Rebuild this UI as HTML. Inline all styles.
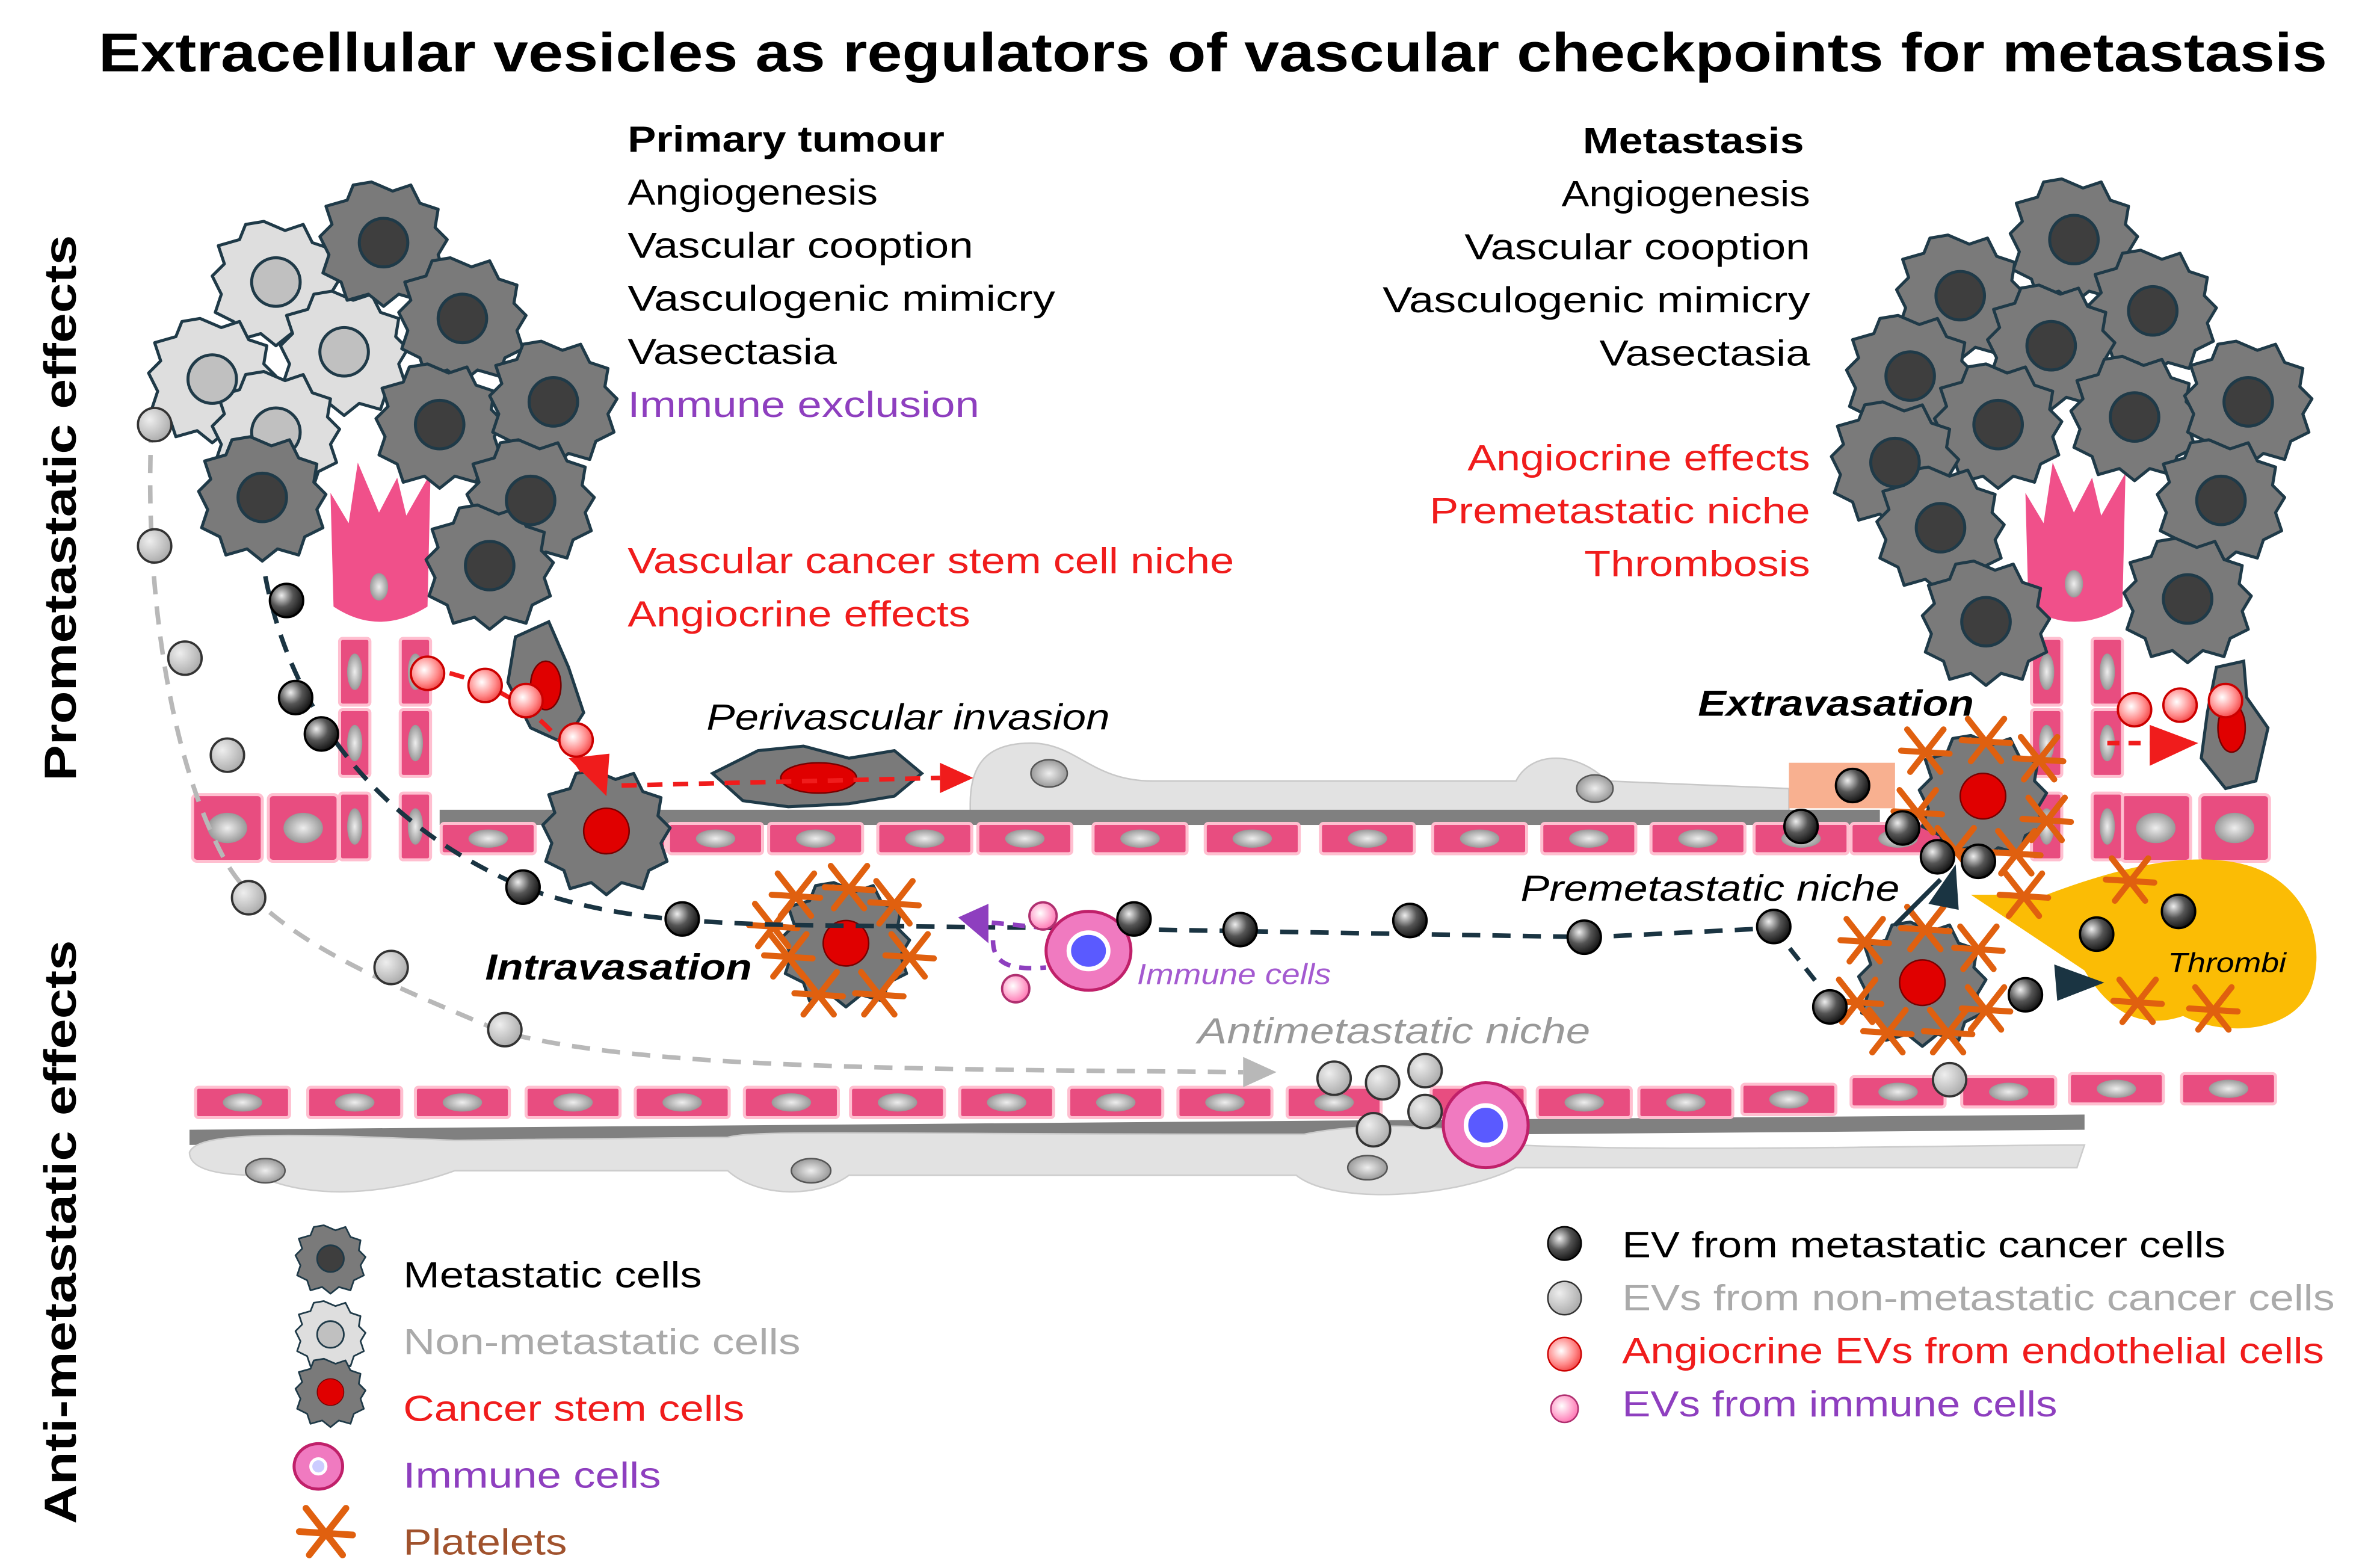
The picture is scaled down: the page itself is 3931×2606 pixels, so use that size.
<!DOCTYPE html>
<html><head><meta charset="utf-8"><style>
html,body{margin:0;padding:0;background:#fff}
svg{display:block}
text{font-family:"Liberation Sans","DejaVu Sans",sans-serif}
</style></head><body>
<svg width="3931" height="2606" viewBox="0 0 1560 1034" preserveAspectRatio="none" xmlns="http://www.w3.org/2000/svg">
<defs>
<radialGradient id="ev" cx="35%" cy="35%" r="70%"><stop offset="0" stop-color="#eee"/><stop offset="0.5" stop-color="#555"/><stop offset="1" stop-color="#111"/></radialGradient>
<radialGradient id="evg" cx="35%" cy="35%" r="70%"><stop offset="0" stop-color="#eee"/><stop offset="1" stop-color="#aaa"/></radialGradient>
<radialGradient id="evr" cx="40%" cy="40%" r="70%"><stop offset="0" stop-color="#fff"/><stop offset="0.6" stop-color="#f88"/><stop offset="1" stop-color="#e33"/></radialGradient>
<radialGradient id="evp" cx="40%" cy="40%" r="70%"><stop offset="0" stop-color="#fff"/><stop offset="1" stop-color="#f6a"/></radialGradient>
<radialGradient id="nuc" cx="50%" cy="50%" r="60%"><stop offset="0" stop-color="#eee"/><stop offset="1" stop-color="#888"/></radialGradient>
<g id="cell"><path d="M-8,-40 L6,-34 L18,-38 L24,-26 L36,-22 L34,-10 L42,-2 L36,8 L40,20 L28,26 L24,38 L10,34 L0,42 L-10,34 L-24,38 L-28,26 L-40,20 L-36,8 L-42,-4 L-34,-12 L-38,-24 L-24,-28 L-20,-38 Z" stroke="#1f3a48" stroke-width="2" stroke-linejoin="round"/></g>
<g id="plt" stroke="#e0600f" stroke-width="4" stroke-linecap="round"><path d="M-12,-14 L10,14 M12,-14 L-10,14 M-16,0 L16,2"/></g>
<g id="ec"><rect x="-23" y="-22" width="46" height="44" rx="3" fill="#e84d80" stroke="#ffbfd0" stroke-width="2"/><ellipse rx="13" ry="10" fill="url(#nuc)"/></g>
<g id="ecs"><rect x="-31" y="-10" width="62" height="20" rx="2" fill="#e84d80" stroke="#ffbfd0" stroke-width="2"/><ellipse rx="13" ry="6" fill="url(#nuc)"/></g>
<g id="ecv"><rect x="-10" y="-22" width="20" height="44" rx="2" fill="#e84d80" stroke="#ffbfd0" stroke-width="2"/><ellipse rx="5" ry="12" fill="url(#nuc)"/></g>
</defs>

<text x="65" y="47" font-size="36" font-weight="bold" textLength="1470" lengthAdjust="spacingAndGlyphs">Extracellular vesicles as regulators of vascular checkpoints for metastasis</text>
<text transform="translate(50,515) rotate(-90)" font-size="30" font-weight="bold" textLength="360" lengthAdjust="spacingAndGlyphs">Prometastatic effects</text>
<text transform="translate(50,1005) rotate(-90)" font-size="30" font-weight="bold" textLength="385" lengthAdjust="spacingAndGlyphs">Anti-metastatic effects</text>

<g font-size="24" lengthAdjust="spacingAndGlyphs">
<text x="414" y="100" font-weight="bold" textLength="209" lengthAdjust="spacingAndGlyphs">Primary tumour</text>
<text x="414" y="135" textLength="165" lengthAdjust="spacingAndGlyphs">Angiogenesis</text>
<text x="414" y="170" textLength="228" lengthAdjust="spacingAndGlyphs">Vascular cooption</text>
<text x="414" y="205" textLength="282" lengthAdjust="spacingAndGlyphs">Vasculogenic mimicry</text>
<text x="414" y="240" textLength="138" lengthAdjust="spacingAndGlyphs">Vasectasia</text>
<text x="414" y="275" fill="#8e3fbf" textLength="232" lengthAdjust="spacingAndGlyphs">Immune exclusion</text>
<text x="414" y="378" fill="#f01c1c" textLength="400" lengthAdjust="spacingAndGlyphs">Vascular cancer stem cell niche</text>
<text x="414" y="413" fill="#f01c1c" textLength="226" lengthAdjust="spacingAndGlyphs">Angiocrine effects</text>
<text x="1044" y="101" font-weight="bold" textLength="146" lengthAdjust="spacingAndGlyphs">Metastasis</text>
<text x="1030" y="136" textLength="164" lengthAdjust="spacingAndGlyphs">Angiogenesis</text>
<text x="966" y="171" textLength="228" lengthAdjust="spacingAndGlyphs">Vascular cooption</text>
<text x="912" y="206" textLength="282" lengthAdjust="spacingAndGlyphs">Vasculogenic mimicry</text>
<text x="1055" y="241" textLength="139" lengthAdjust="spacingAndGlyphs">Vasectasia</text>
<text x="968" y="310" fill="#f01c1c" textLength="226" lengthAdjust="spacingAndGlyphs">Angiocrine effects</text>
<text x="943" y="345" fill="#f01c1c" textLength="251" lengthAdjust="spacingAndGlyphs">Premetastatic niche</text>
<text x="1045" y="380" fill="#f01c1c" textLength="149" lengthAdjust="spacingAndGlyphs">Thrombosis</text>
</g>

<!-- perivascular gray cells upper -->
<path d="M640,530 C640,505 650,490 680,490 C710,490 720,515 760,515 L1000,515 C1010,495 1040,495 1060,515 L1180,520 L1180,535 L640,535 Z" fill="#e2e2e2" stroke="#c8c8c8"/>
<ellipse cx="692" cy="510" rx="12" ry="9" fill="url(#nuc)" stroke="#555"/>
<ellipse cx="1052" cy="520" rx="12" ry="9" fill="url(#nuc)" stroke="#555"/>
<rect x="1180" y="503" width="70" height="30" fill="#f8b090"/>
<!-- upper vessel -->
<rect x="290" y="534" width="950" height="10" fill="#808080"/>
<g>
<use href="#ec" x="150" y="546"/><use href="#ec" x="200" y="546"/>
<use href="#ecs" x="322" y="553"/><use href="#ecs" x="408" y="553"/><use href="#ecs" x="472" y="553"/><use href="#ecs" x="538" y="553"/><use href="#ecs" x="610" y="553"/><use href="#ecs" x="676" y="553"/><use href="#ecs" x="752" y="553"/><use href="#ecs" x="826" y="553"/><use href="#ecs" x="902" y="553"/><use href="#ecs" x="976" y="553"/><use href="#ecs" x="1048" y="553"/><use href="#ecs" x="1120" y="553"/><use href="#ecs" x="1188" y="553"/><use href="#ecs" x="1252" y="553"/>
<use href="#ec" x="1422" y="546"/><use href="#ec" x="1474" y="546"/>
<use href="#ecv" x="234" y="443"/><use href="#ecv" x="234" y="490"/><use href="#ecv" x="234" y="545"/>
<use href="#ecv" x="274" y="443"/><use href="#ecv" x="274" y="490"/><use href="#ecv" x="274" y="545"/>
<use href="#ecv" x="1350" y="443"/><use href="#ecv" x="1350" y="490"/><use href="#ecv" x="1350" y="545"/>
<use href="#ecv" x="1390" y="443"/><use href="#ecv" x="1390" y="490"/><use href="#ecv" x="1390" y="545"/>
</g>
<!-- tip cells -->
<path d="M218,325 L230,345 L236,305 L250,338 L262,315 L268,340 L284,312 L282,400 Q250,420 220,400 Z" fill="#f0508a"/>
<ellipse cx="250" cy="387" rx="6" ry="9" fill="url(#nuc)"/>
<path d="M1336,325 L1348,345 L1354,305 L1368,338 L1380,315 L1386,340 L1402,312 L1400,400 Q1368,420 1338,400 Z" fill="#f0508a"/>
<ellipse cx="1368" cy="385" rx="6" ry="9" fill="url(#nuc)"/>

<!-- lower vessel -->
<path d="M125,745 L1375,735 L1375,745 L125,755 Z" fill="#808080"/>
<path d="M125,760 C130,745 200,748 300,752 L480,750 C500,745 560,748 860,748 C900,740 960,740 1000,755 C1100,760 1300,755 1375,755 L1370,770 C1200,770 1100,770 1000,770 C960,790 880,795 855,775 L560,775 C540,790 500,790 480,772 L300,772 C250,790 200,790 170,775 C140,775 125,770 125,760 Z" fill="#e2e2e2" stroke="#ccc"/>
<ellipse cx="175" cy="772" rx="13" ry="8" fill="url(#nuc)" stroke="#555"/>
<ellipse cx="535" cy="772" rx="13" ry="8" fill="url(#nuc)" stroke="#555"/>
<ellipse cx="902" cy="770" rx="13" ry="8" fill="url(#nuc)" stroke="#555"/>
<g>
<use href="#ecs" x="160" y="727"/><use href="#ecs" x="234" y="727"/><use href="#ecs" x="305" y="727"/><use href="#ecs" x="378" y="727"/><use href="#ecs" x="450" y="727"/><use href="#ecs" x="522" y="727"/><use href="#ecs" x="592" y="727"/><use href="#ecs" x="664" y="727"/><use href="#ecs" x="736" y="727"/><use href="#ecs" x="808" y="727"/><use href="#ecs" x="880" y="727"/><use href="#ecs" x="975" y="727"/><use href="#ecs" x="1045" y="727"/><use href="#ecs" x="1112" y="727"/><use href="#ecs" x="1180" y="725"/><use href="#ecs" x="1252" y="720"/><use href="#ecs" x="1325" y="720"/><use href="#ecs" x="1396" y="718"/><use href="#ecs" x="1470" y="718"/>
</g>

<!-- tumours -->
<g fill="#dedede">
<use href="#cell" x="182" y="186"/><use href="#cell" x="140" y="250"/><use href="#cell" x="227" y="232"/><use href="#cell" x="182" y="285"/>
</g>
<g fill="#c0c0c0" stroke="#1f3a48" stroke-width="2"><circle cx="182" cy="186" r="16"/><circle cx="140" cy="250" r="16"/><circle cx="227" cy="232" r="16"/><circle cx="182" cy="285" r="16"/></g>
<g fill="#7a7a7a">
<use href="#cell" x="253" y="160"/><use href="#cell" x="305" y="210"/><use href="#cell" x="290" y="280"/><use href="#cell" x="365" y="265"/><use href="#cell" x="350" y="330"/><use href="#cell" x="323" y="373"/><use href="#cell" x="173" y="328"/>
<use href="#cell" x="1368" y="158"/><use href="#cell" x="1293" y="195"/><use href="#cell" x="1420" y="205"/><use href="#cell" x="1353" y="228"/><use href="#cell" x="1260" y="248"/><use href="#cell" x="1318" y="280"/><use href="#cell" x="1408" y="275"/><use href="#cell" x="1483" y="265"/><use href="#cell" x="1250" y="305"/><use href="#cell" x="1280" y="348"/><use href="#cell" x="1465" y="330"/><use href="#cell" x="1443" y="395"/><use href="#cell" x="1310" y="410"/>
</g>
<g fill="#3e3e3e" stroke="#1f3a48" stroke-width="2"><circle cx="253" cy="160" r="16"/><circle cx="305" cy="210" r="16"/><circle cx="290" cy="280" r="16"/><circle cx="365" cy="265" r="16"/><circle cx="350" cy="330" r="16"/><circle cx="323" cy="373" r="16"/><circle cx="173" cy="328" r="16"/>
<circle cx="1368" cy="158" r="16"/><circle cx="1293" cy="195" r="16"/><circle cx="1420" cy="205" r="16"/><circle cx="1353" cy="228" r="16"/><circle cx="1260" cy="248" r="16"/><circle cx="1318" cy="280" r="16"/><circle cx="1408" cy="275" r="16"/><circle cx="1483" cy="265" r="16"/><circle cx="1250" cy="305" r="16"/><circle cx="1280" cy="348" r="16"/><circle cx="1465" cy="330" r="16"/><circle cx="1443" cy="395" r="16"/><circle cx="1310" cy="410" r="16"/></g>

<!-- cancer stem cells -->
<g fill="#7a7a7a">
<path d="M340,420 L362,410 L375,440 L385,470 L372,490 L350,480 L335,450 Z" stroke="#1f3a48" stroke-width="2"/>
<use href="#cell" x="400" y="548"/>
<use href="#cell" x="558" y="622"/><use href="#cell" x="1308" y="525"/><use href="#cell" x="1268" y="648"/>
<path d="M1462,440 L1480,436 L1482,460 L1496,480 L1488,515 L1468,520 L1452,500 L1456,470 Z" stroke="#1f3a48" stroke-width="2"/>
<path d="M470,510 L500,495 L530,492 L560,500 L590,495 L608,510 L590,525 L560,530 L520,532 L490,528 Z" stroke="#1f3a48" stroke-width="2"/>
</g>
<g fill="#e00000" stroke="#700"><ellipse cx="360" cy="452" rx="10" ry="16"/><circle cx="400" cy="548" r="15"/><circle cx="558" cy="622" r="15"/><circle cx="1308" cy="525" r="15"/><circle cx="1268" cy="648" r="15"/><ellipse cx="1472" cy="480" rx="9" ry="16"/><ellipse cx="540" cy="513" rx="25" ry="10"/></g>

<!-- thrombi -->
<path d="M1350,590 C1390,575 1440,560 1480,570 C1520,580 1535,620 1525,650 C1515,680 1470,685 1440,670 C1410,680 1390,665 1375,640 L1300,590 Z" fill="#fbbc05"/>
<text x="1430" y="641" font-size="18" font-style="italic" textLength="78" lengthAdjust="spacingAndGlyphs">Thrombi</text>

<!-- platelets -->
<g>
<use href="#plt" x="525" y="590"/><use href="#plt" x="560" y="585"/><use href="#plt" x="590" y="595"/><use href="#plt" x="520" y="630"/><use href="#plt" x="600" y="630"/><use href="#plt" x="540" y="655"/><use href="#plt" x="580" y="655"/><use href="#plt" x="510" y="610"/>
<use href="#plt" x="1270" y="495"/><use href="#plt" x="1310" y="488"/><use href="#plt" x="1345" y="500"/><use href="#plt" x="1265" y="535"/><use href="#plt" x="1350" y="540"/><use href="#plt" x="1290" y="560"/><use href="#plt" x="1330" y="562"/>
<use href="#plt" x="1230" y="620"/><use href="#plt" x="1270" y="612"/><use href="#plt" x="1305" y="625"/><use href="#plt" x="1225" y="660"/><use href="#plt" x="1310" y="665"/><use href="#plt" x="1245" y="680"/><use href="#plt" x="1285" y="680"/>
<use href="#plt" x="1335" y="590"/><use href="#plt" x="1405" y="580"/><use href="#plt" x="1410" y="660"/><use href="#plt" x="1460" y="665"/>
</g>

<!-- dashed paths -->
<path d="M175,380 C190,460 240,540 345,585 C400,605 450,608 520,610 L700,612 L1050,618 L1170,612" fill="none" stroke="#1a3442" stroke-width="3" stroke-dasharray="12,8"/>
<path d="M1170,612 L1200,650" fill="none" stroke="#1a3442" stroke-width="3" stroke-dasharray="10,7"/>
<path d="M1250,610 L1280,580" fill="none" stroke="#1a3442" stroke-width="3"/>
<polygon points="1272,596 1290,570 1292,600" fill="#1a3442"/>
<polygon points="1355,636 1388,648 1357,660" fill="#1a3442"/>
<path d="M100,280 C95,380 110,500 150,570 C180,620 260,650 330,680 C420,705 600,705 820,707" fill="none" stroke="#b8b8b8" stroke-width="3" stroke-dasharray="12,8"/>
<polygon points="820,697 842,707 820,717" fill="#b8b8b8"/>
<path d="M280,440 C330,450 360,470 385,510" fill="none" stroke="#f01c1c" stroke-width="3" stroke-dasharray="10,7"/>
<polygon points="375,500 400,525 402,497" fill="#f01c1c"/>
<path d="M410,518 L620,513" fill="none" stroke="#f01c1c" stroke-width="3" stroke-dasharray="10,7"/>
<polygon points="620,503 642,513 620,523" fill="#f01c1c"/>
<path d="M1390,490 L1420,490" fill="none" stroke="#f01c1c" stroke-width="3" stroke-dasharray="8,6"/>
<polygon points="1418,478 1450,490 1418,505" fill="#f01c1c"/>
<path d="M690,612 L650,608 M655,620 C655,635 665,640 690,638" fill="none" stroke="#8e3fbf" stroke-width="3" stroke-dasharray="8,6"/>
<polygon points="632,605 652,596 652,622" fill="#8e3fbf"/>

<!-- immune cells -->
<ellipse cx="718" cy="627" rx="28" ry="26" fill="#f07ac0" stroke="#c0206a" stroke-width="2"/>
<ellipse cx="718" cy="627" rx="13" ry="12" fill="#5a5aff" stroke="#fff" stroke-width="3"/>
<ellipse cx="980" cy="742" rx="28" ry="28" fill="#f07ac0" stroke="#c0206a" stroke-width="2"/>
<ellipse cx="980" cy="742" rx="13" ry="13" fill="#5a5aff" stroke="#fff" stroke-width="3"/>

<!-- EVs dark -->
<g fill="url(#ev)" stroke="#000" stroke-width="1.5">
<circle cx="189" cy="396" r="11"/><circle cx="195" cy="460" r="11"/><circle cx="212" cy="484" r="11"/><circle cx="345" cy="585" r="11"/><circle cx="450" cy="606" r="11"/><circle cx="748" cy="606" r="11"/><circle cx="818" cy="613" r="11"/><circle cx="930" cy="607" r="11"/><circle cx="1045" cy="618" r="11"/><circle cx="1170" cy="611" r="11"/><circle cx="1222" cy="518" r="11"/><circle cx="1188" cy="545" r="11"/><circle cx="1255" cy="546" r="11"/><circle cx="1278" cy="565" r="11"/><circle cx="1305" cy="568" r="11"/><circle cx="1207" cy="664" r="11"/><circle cx="1336" cy="656" r="11"/><circle cx="1383" cy="616" r="11"/><circle cx="1437" cy="601" r="11"/>
</g>
<!-- EVs gray -->
<g fill="url(#evg)" stroke="#333" stroke-width="1.5">
<circle cx="102" cy="280" r="11"/><circle cx="102" cy="360" r="11"/><circle cx="122" cy="434" r="11"/><circle cx="150" cy="498" r="11"/><circle cx="164" cy="592" r="11"/><circle cx="258" cy="638" r="11"/><circle cx="333" cy="679" r="11"/>
<circle cx="880" cy="711" r="11"/><circle cx="912" cy="714" r="11"/><circle cx="940" cy="706" r="11"/><circle cx="940" cy="733" r="11"/><circle cx="906" cy="745" r="11"/><circle cx="1286" cy="712" r="11"/>
</g>
<!-- EVs red -->
<g fill="url(#evr)" stroke="#c00" stroke-width="1.5">
<circle cx="282" cy="444" r="11"/><circle cx="320" cy="452" r="11"/><circle cx="347" cy="462" r="11"/><circle cx="380" cy="488" r="11"/><circle cx="1408" cy="468" r="11"/><circle cx="1438" cy="465" r="11"/><circle cx="1468" cy="462" r="11"/>
</g>
<!-- EVs pink -->
<g fill="url(#evp)" stroke="#b03070" stroke-width="1.5"><circle cx="688" cy="604" r="9"/><circle cx="670" cy="652" r="9"/></g>

<!-- labels -->
<text x="466" y="481" font-size="24" font-style="italic" textLength="266" lengthAdjust="spacingAndGlyphs">Perivascular invasion</text>
<text x="1120" y="472" font-size="24" font-style="italic" font-weight="bold" textLength="182" lengthAdjust="spacingAndGlyphs">Extravasation</text>
<text x="1003" y="594" font-size="24" font-style="italic" textLength="250" lengthAdjust="spacingAndGlyphs">Premetastatic niche</text>
<text x="320" y="646" font-size="24" font-style="italic" font-weight="bold" textLength="176" lengthAdjust="spacingAndGlyphs">Intravasation</text>
<text x="750" y="649" font-size="19" font-style="italic" fill="#a45ad0" textLength="128" lengthAdjust="spacingAndGlyphs">Immune cells</text>
<text x="790" y="688" font-size="24" font-style="italic" fill="#999" textLength="259" lengthAdjust="spacingAndGlyphs">Antimetastatic niche</text>

<!-- legend left -->
<g transform="translate(218,830) scale(0.55)" fill="#7a7a7a"><use href="#cell"/><circle r="16" fill="#3e3e3e" stroke="#1f3a48" stroke-width="2"/></g>
<g transform="translate(218,880) scale(0.55)" fill="#dedede"><use href="#cell"/><circle r="16" fill="#c0c0c0" stroke="#1f3a48" stroke-width="2"/></g>
<g transform="translate(218,918) scale(0.55)" fill="#7a7a7a"><use href="#cell"/><circle r="16" fill="#e00000" stroke="#700"/></g>
<ellipse cx="210" cy="967" rx="16" ry="15" fill="#f07ac0" stroke="#c0206a" stroke-width="2"/><circle cx="210" cy="967" r="5" fill="#ccf" stroke="#fff" stroke-width="2"/>
<g transform="translate(215,1010) scale(1.1)"><use href="#plt"/></g>
<g font-size="24">
<text x="266" y="849" textLength="197" lengthAdjust="spacingAndGlyphs">Metastatic cells</text>
<text x="266" y="893" fill="#aaa" textLength="262" lengthAdjust="spacingAndGlyphs">Non-metastatic cells</text>
<text x="266" y="937" fill="#f01c1c" textLength="225" lengthAdjust="spacingAndGlyphs">Cancer stem cells</text>
<text x="266" y="981" fill="#8e3fbf" textLength="170" lengthAdjust="spacingAndGlyphs">Immune cells</text>
<text x="266" y="1025" fill="#a0522d" textLength="108" lengthAdjust="spacingAndGlyphs">Platelets</text>
</g>
<!-- legend right -->
<circle cx="1032" cy="820" r="11" fill="url(#ev)" stroke="#000"/>
<circle cx="1032" cy="856" r="11" fill="url(#evg)" stroke="#333"/>
<circle cx="1032" cy="893" r="11" fill="url(#evr)" stroke="#c00"/>
<circle cx="1032" cy="929" r="9" fill="url(#evp)" stroke="#b03070"/>
<g font-size="24">
<text x="1070" y="829" textLength="398" lengthAdjust="spacingAndGlyphs">EV from metastatic cancer cells</text>
<text x="1070" y="864" fill="#aaa" textLength="470" lengthAdjust="spacingAndGlyphs">EVs from non-metastatic cancer cells</text>
<text x="1070" y="899" fill="#f01c1c" textLength="463" lengthAdjust="spacingAndGlyphs">Angiocrine EVs from endothelial cells</text>
<text x="1070" y="934" fill="#8e3fbf" textLength="287" lengthAdjust="spacingAndGlyphs">EVs from immune cells</text>
</g>
</svg>
</body></html>
